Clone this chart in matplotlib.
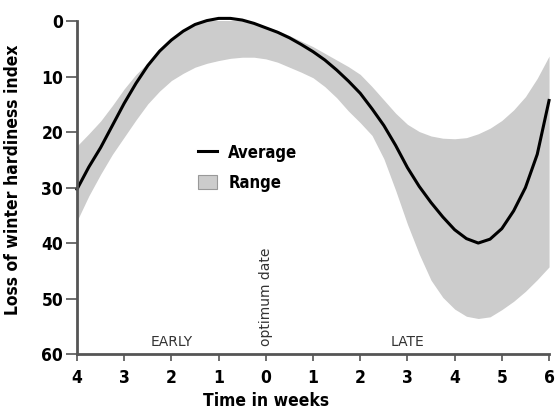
import numpy as np
import matplotlib.pyplot as plt
from matplotlib.lines import Line2D
from matplotlib.patches import Patch

plt.rcParams['font.family'] = ['DejaVu Sans']
plt.rcParams['font.stretch'] = 'condensed'

# weeks relative to optimum date (negative = early)
weeks = [-4, -3.75, -3.5, -3.25, -3, -2.75, -2.5, -2.25, -2, -1.75, -1.5, -1.25, -1,
         -0.75, -0.5, -0.25, 0, 0.25, 0.5, 0.75, 1, 1.25, 1.5, 1.75, 2, 2.25, 2.5,
         2.75, 3, 3.25, 3.5, 3.75, 4, 4.25, 4.5, 4.75, 5, 5.25, 5.5, 5.75, 6]

average = [30.3, 26.3, 22.8, 18.8, 14.8, 11.2, 8.0, 5.4, 3.4, 1.8, 0.6, -0.1, -0.5,
           -0.5, -0.2, 0.4, 1.2, 2.0, 3.0, 4.2, 5.5, 7.0, 8.8, 10.8, 13.0, 15.8, 18.8,
           22.4, 26.4, 29.8, 32.7, 35.3, 37.6, 39.2, 40.0, 39.3, 37.4, 34.2, 30.0, 24.0, 14.3]

range_top = [22.5, 20.3, 18.0, 15.2, 12.2, 9.6, 7.5, 5.3, 3.3, 1.7, 0.5, -0.2, -0.6,
             -0.6, -0.3, 0.3, 1.0, 1.7, 2.6, 3.6, 4.6, 5.8, 7.0, 8.2, 9.6, 11.8, 14.2,
             16.6, 18.6, 19.9, 20.7, 21.1, 21.2, 21.0, 20.3, 19.3, 17.9, 16.0, 13.6, 10.3, 6.3]

range_bottom = [36.0, 31.5, 27.6, 24.0, 20.9, 17.8, 14.9, 12.6, 10.7, 9.4, 8.3, 7.6, 7.1,
                6.7, 6.5, 6.5, 6.8, 7.4, 8.3, 9.2, 10.2, 11.8, 13.8, 16.2, 18.3, 20.6, 24.8,
                30.5, 36.6, 42.0, 46.7, 49.8, 51.9, 53.2, 53.6, 53.3, 52.0, 50.5, 48.7, 46.6, 44.3]

xticks = [-4, -3, -2, -1, 0, 1, 2, 3, 4, 5, 6]
xticklabels = ['4', '3', '2', '1', '0', '1', '2', '3', '4', '5', '6']
yticks = [0, 10, 20, 30, 40, 50, 60]

fig = plt.figure(figsize=(5.56, 4.15), dpi=100)
ax = fig.add_axes([0.1385, 0.147, 0.849, 0.802])

fill_col = '#cccccc'
ax.fill_between(weeks, range_top, range_bottom, color=fill_col, lw=0)
ax.plot(weeks, average, color='black', lw=2.2, clip_on=False)

ax.set_xlim(-4, 6)
ax.set_ylim(60, 0)

for s in ['top', 'right']:
    ax.spines[s].set_visible(False)
for s in ['left', 'bottom']:
    ax.spines[s].set_color('#555555')
    ax.spines[s].set_linewidth(2)

ax.set_xticks(xticks)
ax.set_xticklabels(xticklabels)
ax.set_yticks(yticks)
ax.tick_params(axis='both', direction='out', color='#555555', width=1.2,
               labelsize=12.5)
ax.tick_params(axis='x', length=5, pad=6)
ax.tick_params(axis='y', length=8, pad=2)
for lab in ax.get_xticklabels() + ax.get_yticklabels():
    lab.set_fontweight('bold')

ax.set_xlabel('Time in weeks', fontsize=12.5, fontweight='bold')
ax.set_ylabel('Loss of winter hardiness index', fontsize=12.5, fontweight='bold')
ax.xaxis.set_label_coords(0.4, -0.115)
ax.yaxis.set_label_coords(-0.1165, 0.523)

small = dict(fontsize=10, color='#333333', fontstretch='normal')
ax.text(-2, 59.1, 'EARLY', ha='center', va='bottom', **small)
ax.text(3, 59.1, 'LATE', ha='center', va='bottom', **small)
ax.text(0, 58.5, 'optimum date', rotation=90, ha='center', va='bottom', **small)

handles = [Line2D([0], [0], color='black', lw=2.2),
           Patch(facecolor=fill_col, edgecolor='#999999', lw=0.8)]
leg = ax.legend(handles, ['Average', 'Range'], loc='upper left',
                bbox_to_anchor=(0.225, 0.676), frameon=False, handlelength=1.15,
                handleheight=1.0, handletextpad=0.65, labelspacing=0.7,
                prop={'weight': 'bold', 'size': 12})

fig.savefig('out.png', dpi=100)
